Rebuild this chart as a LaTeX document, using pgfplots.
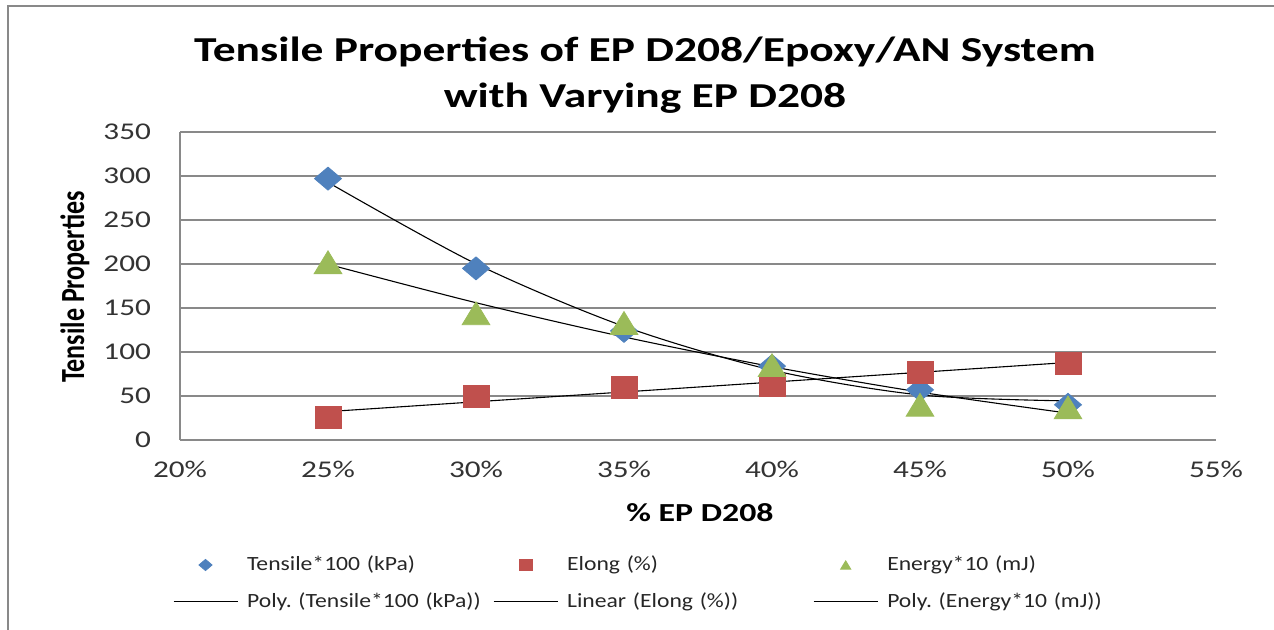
\documentclass[border=0pt]{standalone}
\usepackage{pgfplots}
\usepackage{pgfplotstable}
\usepackage{graphicx}
\pgfplotsset{compat=1.18}
\usepackage{fontspec}
\setmainfont{Carlito}[FakeStretch=1.3]
\newfontfamily\plainfont{Carlito}
\newfontfamily\legfont{Carlito}[FakeStretch=1.17]
\definecolor{cblue}{HTML}{4F81BD}
\definecolor{cred}{HTML}{C0504D}
\definecolor{cgreen}{HTML}{9BBB59}
\definecolor{cgrid}{HTML}{898989}
\pgfplotstableread{
X  T    E   G
25 297  26  202
30 195  49  144
35 124  60  133
40 84   62  85
45 57   77  40
50 40   87  37
}\data
\frenchspacing
\begin{document}
\begin{tikzpicture}
\path[use as bounding box] (0,0) rectangle (637pt,315pt);
\draw[cgrid, line width=1pt] (4pt,0) -- (4pt,312pt) -- (637pt,312pt);
\node[align=center, font=\bfseries\fontsize{17.5}{23}\selectfont] at (322.5pt,277.5pt) {Tensile Properties of EP D208/Epoxy/AN System\\with Varying EP D208};
\node[font=\bfseries\fontsize{13}{15}\selectfont] at (350pt,58.5pt) {\% EP D208};
\node at (37.5pt,171.5pt) {\scalebox{1.3}[1]{\rotatebox{90}{\plainfont\bfseries\fontsize{13}{15}\selectfont Tensile Properties}}};
\begin{axis}[
  at={(90pt,95pt)}, anchor=south west,
  scale only axis, width=518pt, height=154pt,
  xmin=20, xmax=55, ymin=0, ymax=350,
  xtick={20,25,...,55},
  xticklabels={20\%,25\%,30\%,35\%,40\%,45\%,50\%,55\%},
  ytick={0,50,...,350},
  /pgf/number format/assume math mode=true,
  axis x line=bottom, axis y line=left,
  axis line style={-, cgrid, line width=0.9pt},
  major tick length=0pt,
  ymajorgrids, grid style={cgrid, line width=0.9pt},
  tick label style={font=\fontsize{12}{14}\selectfont, text=black!80},
  yticklabel style={xshift=-11pt},
  xticklabel style={yshift=-7pt},
  clip=false,
  legend columns=3,
  legend image code/.code={\draw[mark repeat=2,mark phase=2,#1,/tikz/mark size=2.8pt] plot coordinates {(0pt,0pt)(16pt,0pt)(32pt,0pt)};},
  legend style={draw=none, fill=none, font=\legfont\fontsize{10.1}{12}\selectfont\frenchspacing,
    at={(axis description cs:-0.0068,-0.364)}, anchor=north west,
    inner sep=0pt, outer sep=0pt,
    legend cell align=left, row sep=5.4pt,
    nodes={text width=122pt, inner xsep=0pt, inner ysep=2pt, text=black!85, align=left},
    /tikz/every odd column/.append style={column sep=4.5pt},
    /tikz/every even column/.append style={column sep=1pt}},
]
\addplot[only marks, mark=diamond*, mark size=5.75pt, color=cblue, mark options={xscale=1.566}] table[x=X,y=T] {\data};
\addlegendentry{Tensile*100 (kPa)}
\addplot[only marks, mark=square*, mark size=5.5pt, color=cred, mark options={xscale=1.18}] table[x=X,y=E] {\data};
\addlegendentry{Elong (\%)}
\addplot[only marks, mark=triangle*, mark size=7.6pt, color=cgreen, mark options={xscale=1.05, yshift=-1.9pt},
  legend image post style={mark options={xscale=1.05, yshift=-0.7pt}}] table[x=X,y=G] {\data};
\addlegendentry{Energy*10 (mJ)}
\addplot[black, line width=0.55pt, smooth, no marks] coordinates {(25,292.8)(30,200.2)(35,129.1)(40,79.4)(45,51.2)(50,44.4)};
\addlegendentry{Poly. (Tensile*100 (kPa))}
\addplot[black, line width=0.55pt, no marks] table[x=X, y={create col/linear regression={y=E}}] {\data};
\addlegendentry{Linear (Elong (\%))}
\addplot[black, line width=0.55pt, smooth, no marks] coordinates {(25,199.7)(30,156.0)(35,117.1)(40,83.3)(45,54.4)(50,30.5)};
\addlegendentry{Poly. (Energy*10 (mJ))}
\end{axis}
\end{tikzpicture}
\end{document}
